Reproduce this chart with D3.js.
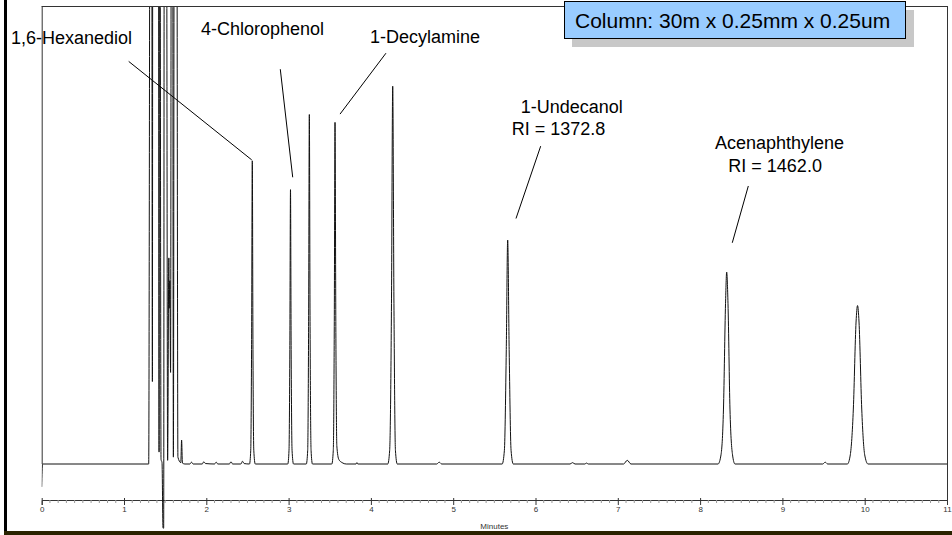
<!DOCTYPE html>
<html>
<head>
<meta charset="utf-8">
<script src="https://d3js.org/d3.v7.min.js"></script>
<style>
  html, body { margin: 0; padding: 0; background: #fff; }
  svg { display: block; font-family: Arial, "Liberation Sans", sans-serif; }
</style>
</head>
<body>
<svg id="chart" width="952" height="535"></svg>
<script>
// chromatogram trace, [minutes, signal] (signal 100 = top of frame)
const trace = [
  [0.000, -5.0], [0.010, 0], [1.300, 0],
  // solvent cluster
  [1.318, 150], [1.336, 150], [1.345, 18], [1.350, 150], [1.418, 150], [1.426, 2.6],
  [1.432, 150], [1.436, 150], [1.450, 1.0], [1.462, 0.3], [1.474, -14], [1.482, -14],
  [1.490, 150], [1.515, 150], [1.530, 0.8], [1.545, 45], [1.549, 34], [1.556, 40],
  [1.566, 20], [1.576, 150], [1.590, 150], [1.600, 1.5], [1.612, 150], [1.640, 150],
  [1.655, 1.5], [1.690, 0.3], [1.700, 5.2], [1.710, 0.2], [1.740, 0],
  // small noise
  [1.80, 0], [1.82, 0.4], [1.84, 0], [1.95, 0], [1.97, 0.5], [1.99, 0.1], [2.10, 0],
  [2.12, 0.4], [2.14, 0], [2.28, 0], [2.30, 0.5], [2.32, 0], [2.42, 0], [2.44, 0.6], [2.46, 0.1],
  // 1,6-hexanediol
  [2.525, 0], [2.540, 3], [2.550, 25], [2.559, 66.2], [2.567, 25], [2.577, 3], [2.595, 0],
  // 4-chlorophenol
  [2.990, 0], [3.005, 3], [3.015, 25], [3.023, 59.9], [3.031, 25], [3.042, 3], [3.060, 0],
  [3.215, 0], [3.232, 3], [3.243, 30], [3.252, 76.3], [3.261, 30], [3.273, 3], [3.290, 0],
  // 1-decylamine
  [3.525, 0], [3.543, 3], [3.555, 30], [3.564, 74.6], [3.574, 30], [3.586, 4], [3.610, 1],
  [3.650, 0.3], [3.700, 0], [3.82, 0], [3.83, 0.3], [3.84, 0],
  [4.205, 0], [4.228, 3], [4.250, 35], [4.265, 82.5], [4.280, 35], [4.298, 3], [4.320, 0],
  [4.80, 0], [4.83, 0.4], [4.86, 0],
  // 1-undecanol
  [5.595, 0], [5.622, 3], [5.645, 25], [5.662, 48.9], [5.680, 25], [5.703, 3], [5.730, 0],
  [6.42, 0], [6.45, 0.3], [6.48, 0], [6.60, 0], [6.62, 0.2], [6.64, 0],
  [7.070, 0], [7.115, 0.8], [7.160, 0],
  // acenaphthylene
  [8.218, 0], [8.254, 2], [8.284, 12], [8.309, 35], [8.323, 41.9], [8.339, 35], [8.363, 12],
  [8.394, 2], [8.424, 0],
  [9.49, 0], [9.52, 0.4], [9.55, 0],
  [9.790, 0], [9.825, 2], [9.862, 12], [9.895, 31], [9.913, 34.6], [9.931, 31], [9.964, 12],
  [10.000, 2], [10.040, 0],
  [11.000, 0]
];

const majorTicks = [0, 1, 2, 3, 4, 5, 6, 7, 8, 9, 10, 11];

// label text, anchor [minutes, signal]
const labelText = ["1,6-Hexanediol", "4-Chlorophenol", "1-Decylamine", "1-Undecanol",
                   "RI = 1372.8", "Acenaphthylene", "RI = 1462.0"];
const labelPos = [[-0.373, 91.7], [1.936, 93.7], [3.989, 91.9], [5.820, 76.6],
                  [5.711, 71.8], [8.181, 68.7], [8.343, 63.8]];

// leader lines, [from, to] in [minutes, signal]
const leaders = [
  [[1.057, 87.9], [2.552, 66.4]],
  [[2.899, 86.2], [3.050, 62.6]],
  [[4.183, 89.7], [3.625, 76.4]],
  [[6.063, 69.4], [5.763, 53.6]],
  [[8.586, 60.7], [8.391, 48.3]]
];

const columnNote = "Column: 30m x 0.25mm x 0.25um";

const margin = {top: 6, right: 5, bottom: 35, left: 42};
const W = 952, H = 535;

const svg = d3.select("#chart");

const xScale = d3.scaleLinear().domain([0, 11]).range([41.7, 947]);
const yScale = d3.scaleLinear().domain([0, 100]).range([464, 6]);
const axisY = 500;

// outer decoration
svg.append("rect").attr("x", 0).attr("y", 0).attr("width", W).attr("height", H).attr("fill", "#fff");
svg.append("rect").attr("x", 4).attr("y", 0).attr("width", 3).attr("height", H).attr("fill", "#000");
svg.append("rect").attr("x", 4).attr("y", 531).attr("width", W - 4).attr("height", 4).attr("fill", "#2a2300");

// plot frame
const frame = svg.append("g").attr("stroke", "#333").attr("stroke-width", 1).attr("fill", "none");
frame.append("line").attr("x1", xScale(0)).attr("x2", xScale(11) + 0.5)
  .attr("y1", yScale(100) + 0.5).attr("y2", yScale(100) + 0.5);
frame.append("line").attr("x1", xScale(11) + 0.5).attr("x2", xScale(11) + 0.5)
  .attr("y1", yScale(100)).attr("y2", axisY);
frame.append("line").attr("x1", xScale(0) + 0.5).attr("x2", xScale(0) + 0.5)
  .attr("y1", yScale(100)).attr("y2", yScale(0));

// x axis
const xAxis = d3.axisBottom(xScale).tickValues(majorTicks).tickSize(5).tickFormat(d3.format("d"));
const gx = svg.append("g").attr("transform", "translate(0," + axisY + ")").call(xAxis);
gx.select(".domain").attr("stroke", "#333");
gx.selectAll(".tick line").attr("stroke", "#333").attr("y1", -2);
gx.selectAll(".tick text").attr("font-size", 8).attr("fill", "#333").attr("dy", "0.55em")
  .attr("font-family", "Arial, 'Liberation Sans', sans-serif");
gx.selectAll(".minor").data(d3.range(0, 110).filter(function(i) { return i % 10 !== 0; }))
  .enter().append("line")
  .attr("class", "minor")
  .attr("x1", function(i) { return xScale(i / 10); })
  .attr("x2", function(i) { return xScale(i / 10); })
  .attr("y1", 0).attr("y2", 3)
  .attr("stroke", "#999");

svg.append("text").attr("x", (xScale(0) + xScale(11)) / 2).attr("y", 529)
  .attr("text-anchor", "middle").attr("font-size", 8).attr("fill", "#333").text("Minutes");

// trace
svg.append("clipPath").attr("id", "clip").append("rect")
  .attr("x", xScale(0)).attr("y", yScale(100) + 1)
  .attr("width", xScale(11) - xScale(0)).attr("height", 531 - yScale(100) - 1);

const line = d3.line()
  .x(function(d) { return xScale(d[0]); })
  .y(function(d) { return yScale(d[1]); })
  .curve(d3.curveMonotoneX);

svg.append("path")
  .datum(trace)
  .attr("clip-path", "url(#clip)")
  .attr("fill", "none")
  .attr("stroke", "#111")
  .attr("stroke-width", 1)
  .attr("d", line);

// leaders
svg.selectAll(".leader").data(leaders).enter().append("line")
  .attr("class", "leader")
  .attr("x1", function(d) { return xScale(d[0][0]); })
  .attr("y1", function(d) { return yScale(d[0][1]); })
  .attr("x2", function(d) { return xScale(d[1][0]); })
  .attr("y2", function(d) { return yScale(d[1][1]); })
  .attr("stroke", "#000").attr("stroke-width", 1);

// labels
svg.selectAll(".peak-label").data(labelText).enter().append("text")
  .attr("class", "peak-label")
  .attr("x", function(d, i) { return xScale(labelPos[i][0]); })
  .attr("y", function(d, i) { return yScale(labelPos[i][1]); })
  .attr("font-size", 18).attr("fill", "#000")
  .text(function(d) { return d; });

// column note box with shadow
const note = svg.append("g");
note.append("rect").attr("x", 572).attr("y", 10).attr("width", 342).attr("height", 37).attr("fill", "#c8c8c8");
note.append("rect").attr("x", 564.5).attr("y", 1.5).attr("width", 341).attr("height", 37)
  .attr("fill", "#99ccff").attr("stroke", "#000").attr("stroke-width", 1);
note.append("text").attr("x", 575).attr("y", 28).attr("font-size", 21).attr("fill", "#000").text(columnNote);
</script>
</body>
</html>
